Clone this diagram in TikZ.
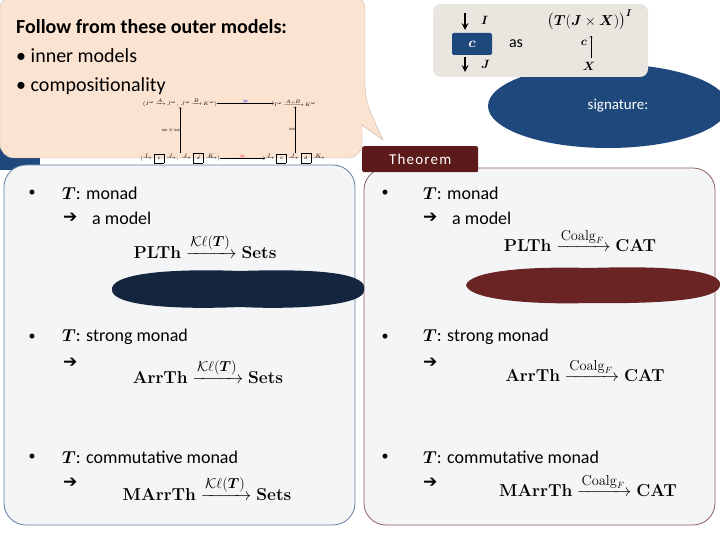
\documentclass[tikz,border=0pt]{standalone}
\usepackage{amsmath,amssymb}
\usepackage[no-math]{fontspec}
\setmainfont{Carlito}
\newfontfamily\dv{DejaVu Sans}
\usetikzlibrary{shapes.geometric,calc}
\definecolor{panel}{HTML}{F4F5F7}
\definecolor{bblue}{HTML}{1F497D}
\definecolor{dred}{HTML}{5C1A1A}
\definecolor{peach}{HTML}{FBE3D2}
\definecolor{beige}{HTML}{E8E6DF}
\definecolor{blobb}{HTML}{14253F}
\definecolor{blobr}{HTML}{6B2424}
\tikzset{
 txt/.style={anchor=west,inner sep=0pt,font=\fontsize{18}{18}\selectfont},
 bul/.style={anchor=center,inner sep=0pt,font=\fontsize{14}{14}\selectfont},
 arr/.style={anchor=west,inner sep=0pt,font=\dv\bfseries\fontsize{17}{17}\selectfont},
 frm/.style={anchor=center,inner sep=0pt,font=\fontsize{19}{19}\selectfont},
 tiny/.style={inner sep=0pt,font=\fontsize{3.5}{3.5}\selectfont},
}
\newcommand{\kl}{\mathcal{K}\ell(\boldsymbol{T})}
\newcommand{\cf}{\mathrm{Coalg}_F}
\begin{document}
\begin{tikzpicture}[x=1pt,y=-1pt]
\useasboundingbox (0,0) rectangle (720,540);
\fill[white] (0,0) rectangle (720,540);
% panels
\fill[bblue] (0,148) rectangle (40,170);
\draw[bblue!70,line width=0.8pt,fill=panel,rounded corners=22pt] (4,165) rectangle (355,525);
\draw[dred!70,line width=0.8pt,fill=panel,rounded corners=22pt] (364,168) rectangle (715,525);
\node[fill=dred,text=white,minimum width=116,minimum height=26,anchor=north west,rounded corners=2pt,font=\fontsize{15}{15}\selectfont\addfontfeature{LetterSpace=8}] (thm) at (362,146) {Theorem};
% callout
\fill[peach,draw=peach!80!black,line width=0.4pt,rounded corners=14pt] (0,-5) -- (365,-5) -- (365,100) [sharp corners] -- (383,140) -- (362,125) [rounded corners=14pt] -- (362,158) -- (0,158) -- cycle;
\node[anchor=north west,inner sep=0pt,align=left,font=\fontsize{20}{29}\selectfont] (co) at (16,19) {\textbf{Follow from these outer models:}\\• inner models\\• compositionality};
% tiny diagram
\node[tiny] (a1) at (180,103) {$(I^{\omega}\!\xrightarrow{A}\!J^{\omega},\, J^{\omega}\!\xrightarrow{B}\!K^{\omega})$};
\node[tiny] (a2) at (295,103) {$I^{\omega}\!\xrightarrow{A\ggg B}\!K^{\omega}$};
\node[tiny] (b1) at (180,158) {$\bigl(\xrightarrow{I}\boxed{c}\xrightarrow{J},\, \xrightarrow{J}\boxed{d}\xrightarrow{K}\bigr)$};
\node[tiny] (b2) at (295,158) {$\xrightarrow{I}\boxed{c}\xrightarrow{J}\boxed{d}\xrightarrow{K}$};
\draw[->,line width=0.3pt] (a1) -- node[above,tiny,text=blue]{$\ggg$} (a2);
\draw[->,line width=0.3pt] (b1) -- node[above,tiny,text=red]{$\ggg$} (b2);
\draw[->,line width=0.3pt] (b1.north) -- node[left,tiny]{beh $\times$ beh} (a1.south);
\draw[->,line width=0.3pt] (b2.north) -- node[left,tiny]{beh} (a2.south);
% blue callout
\node[ellipse,fill=bblue,minimum width=240,minimum height=84,text=white,font=\fontsize{15}{15}\selectfont] (sig) at (608,106) {\hspace*{20pt}signature:};
\fill[bblue] (572,72) -- (585,85) -- (612,85) -- cycle;
% top right box
\fill[beige,rounded corners=8pt] (433,4) rectangle (648,77);
\node[fill=bblue,text=white,rounded corners=2pt,minimum width=40,minimum height=22,font=\fontsize{14}{14}\selectfont] (c) at (472,44) {$\boldsymbol{c}$};
\draw[-stealth,line width=2pt] (465,13) -- (465,30);
\node[anchor=west,inner sep=0pt,font=\fontsize{13}{13}\selectfont] (ilab) at (481,20) {$\boldsymbol{I}$};
\draw[-stealth,line width=2pt] (465,57) -- (465,72);
\node[anchor=west,inner sep=0pt,font=\fontsize{13}{13}\selectfont] (jlab) at (481,64) {$\boldsymbol{J}$};
\node[inner sep=0pt,font=\fontsize{16}{16}\selectfont] (as) at (516,44) {as};
\node[inner sep=0pt,font=\fontsize{14}{14}\selectfont] (tf) at (590,20) {$\bigl(\boldsymbol{T}(\boldsymbol{J}\times\boldsymbol{X})\bigr)^{\boldsymbol{I}}$};
\node[inner sep=0pt,font=\fontsize{13}{13}\selectfont] (cc) at (584,43) {$\boldsymbol{c}$};
\node[inner sep=0pt,font=\fontsize{13}{13}\selectfont] (xx) at (589,66) {$\boldsymbol{X}$};
\draw[->,line width=0.3pt] (591,58) -- (591,36);
% blobs
\fill[blobb] (112,290) .. controls (110,275) and (160,268) .. (240,271) .. controls (330,268) and (368,275) .. (364,290) .. controls (366,305) and (300,310) .. (240,307) .. controls (170,310) and (112,305) .. (112,290) -- cycle;
\fill[blobr] (466,285) .. controls (470,272) and (520,266) .. (590,268) .. controls (680,265) and (722,272) .. (720,285) .. controls (720,300) and (660,304) .. (590,303) .. controls (520,305) and (468,298) .. (466,285) -- cycle;
% left contents
\foreach \yy/\nm in {193/l1,337/l2,457/l3}{\node[bul] (b\nm) at (32,\yy) {•};}
\node[txt] (lt1) at (62,193) {$\boldsymbol{T}$: monad};
\node[arr] (la1) at (63,218) {➔};
\node[txt] (lm1) at (92,218) {a model};
\node[frm] (lf1) at (205,246) {$\mathbf{PLTh}\xrightarrow{\kl}\mathbf{Sets}$};
\node[txt] (lt2) at (62,337) {$\boldsymbol{T}$: strong monad};
\node[arr] (la2) at (63,363) {➔};
\node[frm] (lf2) at (208,371) {$\mathbf{ArrTh}\xrightarrow{\kl}\mathbf{Sets}$};
\node[txt] (lt3) at (62,457) {$\boldsymbol{T}$: commutative monad};
\node[arr] (la3) at (63,483) {➔};
\node[frm] (lf3) at (207,488) {$\mathbf{MArrTh}\xrightarrow{\kl}\mathbf{Sets}$};
% right contents
\foreach \yy/\nm in {193/r1,337/r2,457/r3}{\node[bul] (b\nm) at (385,\yy) {•};}
\node[txt] (rt1) at (423,193) {$\boldsymbol{T}$: monad};
\node[arr] (ra1) at (423,218) {➔};
\node[txt] (rm1) at (452,218) {a model};
\node[frm] (rf1) at (580,240) {$\mathbf{PLTh}\xrightarrow{\cf}\mathbf{CAT}$};
\node[txt] (rt2) at (423,337) {$\boldsymbol{T}$: strong monad};
\node[arr] (ra2) at (423,363) {➔};
\node[frm] (rf2) at (585,370) {$\mathbf{ArrTh}\xrightarrow{\cf}\mathbf{CAT}$};
\node[txt] (rt3) at (423,457) {$\boldsymbol{T}$: commutative monad};
\node[arr] (ra3) at (423,483) {➔};
\node[frm] (rf3) at (588,485) {$\mathbf{MArrTh}\xrightarrow{\cf}\mathbf{CAT}$};
\end{tikzpicture}
\end{document}
